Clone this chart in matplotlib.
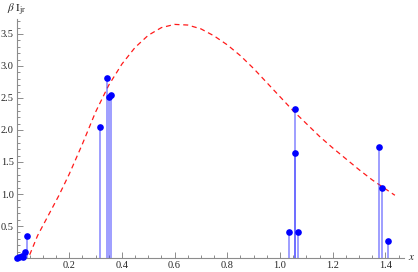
import numpy as np
import matplotlib.pyplot as plt
from matplotlib.ticker import MultipleLocator

# discrete values (stems with dots)
x_pts = [0.001, 0.010, 0.020, 0.025, 0.034, 0.039,
         0.317, 0.342, 0.351, 0.357,
         1.034, 1.056, 1.058, 1.069,
         1.377, 1.387, 1.411]
y_pts = [0.005, 0.02, 0.03, 0.02, 0.10, 0.35,
         2.04, 2.82, 2.51, 2.55,
         0.40, 2.33, 1.645, 0.40,
         1.73, 1.10, 0.27]

# red dashed curve
x_curve = [0.05, 0.08, 0.12, 0.16, 0.20, 0.25, 0.30, 0.35, 0.40, 0.45,
           0.50, 0.55, 0.60, 0.65, 0.70, 0.75, 0.80, 0.85, 0.90, 0.95,
           1.00, 1.05, 1.10, 1.15, 1.20, 1.25, 1.30, 1.35, 1.40, 1.436]
y_curve = [0.05, 0.35, 0.66, 0.97, 1.31, 1.78, 2.28, 2.70, 3.03, 3.29,
           3.48, 3.60, 3.65, 3.64, 3.58, 3.47, 3.33, 3.16, 2.96, 2.74,
           2.52, 2.30, 2.10, 1.90, 1.72, 1.55, 1.38, 1.22, 1.08, 0.98]

plt.rcParams['font.family'] = ['Liberation Serif', 'DejaVu Serif']
plt.rcParams['mathtext.fontset'] = 'stix'

fig = plt.figure(figsize=(4.18, 2.72), dpi=100)
ax = fig.add_axes([16.5 / 418, 14 / 272, 263.5 * 1.47 / 418, 64 * 3.73 / 272])

ax.plot(x_curve, y_curve, color=(1, 0.1, 0.1), lw=0.9, dashes=(4, 3))
ax.vlines(x_pts, 0, y_pts, color=(0.25, 0.25, 1.0), alpha=0.55, lw=1.3)
ax.plot(x_pts, y_pts, 'o', color=(0, 0, 1), ms=4.8, mec='none', clip_on=False, zorder=5)

ax.set_xlim(0, 1.47)
ax.set_ylim(0, 3.73)
for s in ['top', 'right']:
    ax.spines[s].set_visible(False)
for s in ['left', 'bottom']:
    ax.spines[s].set_color('0.55')
    ax.spines[s].set_linewidth(0.8)

ax.xaxis.set_major_locator(MultipleLocator(0.2))
ax.xaxis.set_minor_locator(MultipleLocator(0.05))
ax.yaxis.set_major_locator(MultipleLocator(0.5))
ax.yaxis.set_minor_locator(MultipleLocator(0.1))
ax.tick_params(which='both', direction='in', color='0.55', width=0.7,
               labelsize=7.5, labelcolor='0.15', pad=2)
ax.tick_params(which='major', length=4)
ax.tick_params(which='minor', length=2.2)

ax.set_xticks([0.2, 0.4, 0.6, 0.8, 1.0, 1.2, 1.4])
ax.set_xticklabels(['0.2', '0.4', '0.6', '0.8', '1.0', '1.2', '1.4'])
ax.set_yticks([0.5, 1.0, 1.5, 2.0, 2.5, 3.0, 3.5])
ax.set_yticklabels(['0.5', '1.0', '1.5', '2.0', '2.5', '3.0', '3.5'])

fig.text(7 / 418, 1 - 10 / 272, r'$\beta\ \mathrm{I}_{\mathrm{jr}}$', fontsize=8,
         color='0.15', va='center', ha='left')
fig.text(408 / 418, 1 - 258 / 272, r'$x$', fontsize=8, color='0.15',
         va='center', ha='left')

fig.savefig('out.png', dpi=100)
